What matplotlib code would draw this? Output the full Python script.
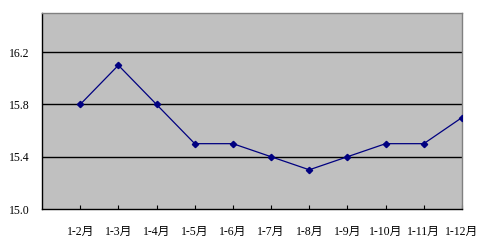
import matplotlib
matplotlib.use("Agg")
import matplotlib.pyplot as plt

months = ["1-2月", "1-3月", "1-4月", "1-5月", "1-6月", "1-7月",
          "1-8月", "1-9月", "1-10月", "1-11月", "1-12月"]
values = [15.8, 16.1, 15.8, 15.5, 15.5, 15.4, 15.3, 15.4, 15.5, 15.5, 15.7]
yticks = [15.0, 15.4, 15.8, 16.2]

FONT = ["Liberation Serif", "Noto Sans CJK SC"]

fig = plt.figure(figsize=(4.91, 2.5), dpi=100)
ax = fig.add_axes([42 / 491, 1 - 209 / 250, (462 - 42) / 491, (209 - 13) / 250])
ax.set_facecolor("#c0c0c0")

x = list(range(len(months)))
ax.plot(x, values, color="#000080", lw=0.9, marker="D", ms=3.2,
        markerfacecolor="#000080", markeredgecolor="#000080", zorder=3)

ax.set_xlim(-1, len(months) - 1)
ax.set_ylim(15.0, 16.5)
ax.set_yticks(yticks)
ax.set_yticklabels([f"{v:.1f}" for v in yticks], family=FONT, fontsize=8.5)
ax.set_xticks(x)
ax.set_xticklabels(months, family=FONT, fontsize=8.5)
for yv in yticks[1:]:
    ax.axhline(yv, color="black", lw=1, zorder=1)

ax.tick_params(axis="x", direction="in", length=3, width=0.8, pad=12)
ax.tick_params(axis="y", length=0, pad=9)
for s in ("left", "bottom"):
    ax.spines[s].set_color("black")
    ax.spines[s].set_linewidth(1)
for s in ("top", "right"):
    ax.spines[s].set_color("#808080")
    ax.spines[s].set_linewidth(1)

fig.savefig("out.png", dpi=100)
